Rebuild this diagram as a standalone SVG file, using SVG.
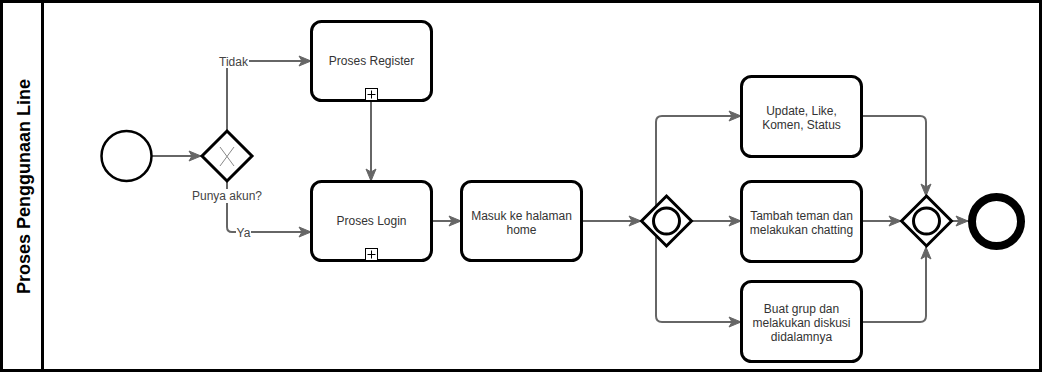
<svg xmlns="http://www.w3.org/2000/svg" width="1043" height="373" viewBox="0 0 1043 373">
  <style>
    .task { fill: #ffffff; stroke: #000000; stroke-width: 3; }
    .gw { fill: #ffffff; stroke: #000000; stroke-width: 3; }
    .edge { fill: none; stroke: #666666; stroke-width: 2; }
    .lbl { font-family: "Liberation Sans", Arial, sans-serif; font-size: 12px; fill: #333333; text-anchor: middle; }
    .elbl { font-family: "Liberation Sans", Arial, sans-serif; font-size: 12px; fill: #444444; text-anchor: middle; }
    .title { font-family: "Liberation Sans", Arial, sans-serif; font-size: 18px; font-weight: bold; fill: #000000; text-anchor: middle; }
  </style>
  <defs>
    <marker id="arrow" markerUnits="userSpaceOnUse" markerWidth="12" markerHeight="10" refX="12" refY="5" orient="auto" overflow="visible">
      <path d="M0,0 L12,5 L0,10 L3,5 Z" fill="#666666" stroke="#666666" stroke-width="1"/>
    </marker>
  </defs>

  <rect x="0" y="0" width="1043" height="373" fill="#ffffff"/>

  <!-- pool and lane -->
  <g id="pool">
    <rect x="1.5" y="1.5" width="1039" height="369" fill="none" stroke="#000000" stroke-width="3"/>
    <line x1="42.5" y1="1.5" x2="42.5" y2="370.5" stroke="#000000" stroke-width="3"/>
    <text class="title" transform="translate(30,186.5) rotate(-90)">Proses Penggunaan Line</text>
  </g>

  <!-- connectors -->
  <g id="connectors">
    <path class="edge" d="M152,156 L201,156" marker-end="url(#arrow)"/>
    <path class="edge" d="M227,131 L227,66 Q227,61 232,61 L311,61" marker-end="url(#arrow)"/>
    <path class="edge" d="M227,182 L227,227 Q227,232 232,232 L311,232" marker-end="url(#arrow)"/>
    <path class="edge" d="M371,101 L371,181" marker-end="url(#arrow)"/>
    <path class="edge" d="M431,221 L461,221" marker-end="url(#arrow)"/>
    <path class="edge" d="M581,221 L641,221" marker-end="url(#arrow)"/>
    <path class="edge" d="M656,221 L656,122 Q656,116 662,116 L741,116" marker-end="url(#arrow)"/>
    <path class="edge" d="M692,221 L741,221" marker-end="url(#arrow)"/>
    <path class="edge" d="M656,221 L656,316 Q656,322 662,322 L741,322" marker-end="url(#arrow)"/>
    <path class="edge" d="M861,116 L920,116 Q926,116 926,122 L926,196" marker-end="url(#arrow)"/>
    <path class="edge" d="M861,221 L901,221" marker-end="url(#arrow)"/>
    <path class="edge" d="M861,322 L920,322 Q926,322 926,316 L926,247" marker-end="url(#arrow)"/>
    <path class="edge" d="M952,221 L968,221" marker-end="url(#arrow)"/>
    <!-- edge labels -->
    <rect x="218" y="54" width="31" height="14" fill="#ffffff"/>
    <text class="elbl" x="233.5" y="66">Tidak</text>
    <rect x="236" y="226" width="15" height="13" fill="#ffffff"/>
    <text class="elbl" x="243.5" y="237">Ya</text>
  </g>

  <g id="start">
    <circle cx="126.5" cy="156" r="25" fill="#ffffff" stroke="#000000" stroke-width="2.5"/>
  </g>

  <g id="gw-akun">
    <path class="gw" d="M227,131 L252,156 L227,181 L202,156 Z"/>
    <path d="M220,147 L234,166 M234,147 L220,166" stroke="#888888" stroke-width="1" fill="none"/>
    <rect x="190" y="189" width="74" height="14" fill="#ffffff"/>
    <text class="elbl" x="227" y="200">Punya akun?</text>
  </g>

  <g id="register">
    <rect class="task" x="311.5" y="21.5" width="120" height="79" rx="10"/>
    <text class="lbl" x="371.5" y="65">Proses Register</text>
    <rect x="365.5" y="88.5" width="12" height="12" fill="#ffffff" stroke="#000000" stroke-width="1"/>
    <path d="M371.5,90.5 L371.5,98.5 M367.5,94.5 L375.5,94.5" stroke="#000000" stroke-width="1"/>
  </g>

  <g id="login">
    <rect class="task" x="311.5" y="181.5" width="120" height="79" rx="10"/>
    <text class="lbl" x="371.5" y="225">Proses Login</text>
    <rect x="365.5" y="248.5" width="12" height="12" fill="#ffffff" stroke="#000000" stroke-width="1"/>
    <path d="M371.5,250.5 L371.5,258.5 M367.5,254.5 L375.5,254.5" stroke="#000000" stroke-width="1"/>
  </g>

  <g id="home">
    <rect class="task" x="461.5" y="181.5" width="120" height="79" rx="10"/>
    <text class="lbl" x="521.5" y="220">Masuk ke halaman</text>
    <text class="lbl" x="521.5" y="234">home</text>
  </g>

  <g id="gw-split">
    <path class="gw" d="M666.5,196 L691.5,221 L666.5,246 L641.5,221 Z"/>
    <circle cx="666.5" cy="221" r="13" fill="none" stroke="#000000" stroke-width="3"/>
  </g>

  <g id="update">
    <rect class="task" x="741.5" y="76.5" width="120" height="80" rx="10"/>
    <text class="lbl" x="801.5" y="115">Update, Like,</text>
    <text class="lbl" x="801.5" y="129">Komen, Status</text>
  </g>

  <g id="chatting">
    <rect class="task" x="741.5" y="181.5" width="120" height="80" rx="10"/>
    <text class="lbl" x="801.5" y="220">Tambah teman dan</text>
    <text class="lbl" x="801.5" y="234">melakukan chatting</text>
  </g>

  <g id="grup">
    <rect class="task" x="741.5" y="281.5" width="120" height="80" rx="10"/>
    <text class="lbl" x="801.5" y="313">Buat grup dan</text>
    <text class="lbl" x="801.5" y="327">melakukan diskusi</text>
    <text class="lbl" x="801.5" y="341">didalamnya</text>
  </g>

  <g id="gw-merge">
    <path class="gw" d="M926.5,196 L951.5,221 L926.5,246 L901.5,221 Z"/>
    <circle cx="926.5" cy="221" r="13" fill="none" stroke="#000000" stroke-width="3"/>
  </g>

  <g id="end">
    <circle cx="996.5" cy="221.5" r="24.5" fill="#ffffff" stroke="#000000" stroke-width="8"/>
  </g>
</svg>
